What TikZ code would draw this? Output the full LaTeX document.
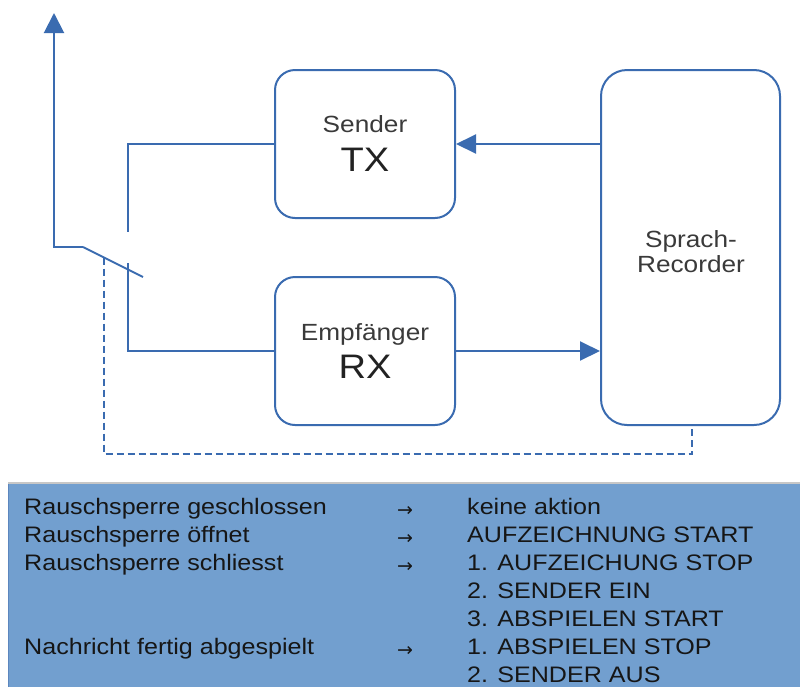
\documentclass[tikz,border=0pt]{standalone}
\usepackage{fontspec}
\setmainfont{Liberation Sans}[FakeStretch=1.12]
\newfontfamily\arrfont{DejaVu Sans}
\usetikzlibrary{arrows.meta}
\definecolor{wire}{HTML}{3A6BB0}
\definecolor{tabfill}{HTML}{729FCF}
\definecolor{tabedge}{HTML}{5C86BE}
\definecolor{lbl}{HTML}{3A3A3A}
\definecolor{big}{HTML}{222222}
\definecolor{tabtext}{HTML}{161616}
\begin{document}
\begin{tikzpicture}[x=1pt,y=-1pt,
  wirestyle/.style={draw=wire,line width=2pt},
  dashwire/.style={wirestyle,dash pattern=on 7pt off 4pt},
  tip/.style={-{Triangle[length=20pt,width=19pt]}},
  blk/.style={draw=wire,line width=2pt,rounded corners=20pt,fill=white,
    minimum width=180pt,minimum height=148pt,inner sep=0pt},
  smalllbl/.style={anchor=base,inner sep=0pt,text=lbl,font=\fontsize{23.4}{28}\selectfont},
  biglbl/.style={anchor=base,inner sep=0pt,text=big,font=\fontsize{34}{40}\selectfont},
  tabtxt/.style={anchor=base west,inner sep=0pt,text=tabtext,font=\fontsize{22.4}{28}\selectfont},
  tabarr/.style={anchor=base,inner sep=0pt,text=tabtext,font=\arrfont\fontsize{19}{22}\selectfont}
]
\useasboundingbox (0,0) rectangle (800,686);

% blocks
\node[blk] (tx) at (365,144) {};
\node[blk] (rx) at (365,351) {};
\node[blk,minimum width=179pt,minimum height=355pt,rounded corners=26pt] (rec) at (690.5,247.5) {};

\node[smalllbl] (txname) at (365,132) {Sender};
\node[biglbl] (txcode) at (365,171) {TX};
\node[smalllbl] (rxname) at (365,340) {Empfänger};
\node[biglbl] (rxcode) at (365,378) {RX};
\node[smalllbl] (recname1) at (691,247) {Sprach-};
\node[smalllbl] (recname2) at (691,272) {Recorder};

% switch / antenna geometry
\coordinate (swtop) at (128,232);
\coordinate (swbot) at (128,263);
\coordinate (piv) at (83,247);
\coordinate (antc) at (54,247);
\coordinate (anttip) at (54,13);
\coordinate (blade) at (143,277);
\coordinate (dstart) at (104,257.5);
\coordinate (dcorner) at (104,454);
\coordinate (dend) at (692,425);

% connectors
\draw[wirestyle] (tx.west) -| (swtop);
\draw[wirestyle] (rx.west) -| (swbot);
\draw[wirestyle,tip] (rec.west |- tx.east) -- (tx.east);
\draw[wirestyle,tip] (rx.east) -- (rec.west |- rx.east);
\draw[wirestyle,-{Triangle[length=20pt,width=20pt]}] (piv) -- (antc) -- (anttip);
\draw[wirestyle] (piv) -- (blade);
\draw[dashwire] (dstart) -- (dcorner) -| (dend);

% table
\node[fill=tabfill,draw=tabedge,line width=1pt,anchor=north west,minimum width=793pt,
  minimum height=204pt,inner sep=0pt] (tab) at (8,483) {};
\draw[draw=black!22,line width=1.5pt] (tab.north west) -- (tab.north east);

\node[tabtxt] (l1) at (24,514) {Rauschsperre geschlossen};
\node[tabtxt] (l2) at (24,542) {Rauschsperre öffnet};
\node[tabtxt] (l3) at (24,570) {Rauschsperre schliesst};
\node[tabtxt] (l6) at (24,654) {Nachricht fertig abgespielt};

\node[tabarr] (a1) at (405,516) {→};
\node[tabarr] (a2) at (405,544) {→};
\node[tabarr] (a3) at (405,572) {→};
\node[tabarr] (a6) at (405,656) {→};

\node[tabtxt] (r1) at (467,514) {keine aktion};
\node[tabtxt] (r2) at (467,542) {AUFZEICHNUNG START};
\node[tabtxt] (r3) at (467,570) {1. AUFZEICHUNG STOP};
\node[tabtxt] (r4) at (467,598) {2. SENDER EIN};
\node[tabtxt] (r5) at (467,626) {3. ABSPIELEN START};
\node[tabtxt] (r6) at (467,654) {1. ABSPIELEN STOP};
\node[tabtxt] (r7) at (467,682) {2. SENDER AUS};
\end{tikzpicture}
\end{document}
